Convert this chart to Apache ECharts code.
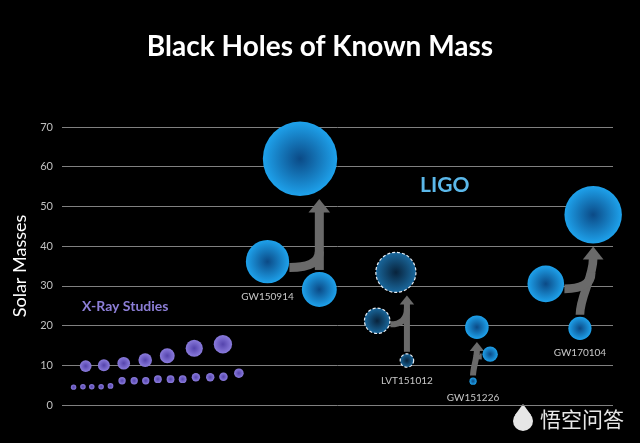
<!DOCTYPE html>
<html><head><meta charset="utf-8">
<script src="https://cdn.jsdelivr.net/npm/echarts@6/dist/echarts.min.js"></script>
<style>html,body{margin:0;padding:0;background:#000;}#c{width:640px;height:443px;}</style>
</head><body><div id="c"></div>
<script>
// ---- data ----
const yTicks = [0, 10, 20, 30, 40, 50, 60, 70];
const xrayX    = [4.3, 7.6, 11.2, 15.1, 19.1, 24.0, 29.2, 2.1, 3.8, 5.4, 7.1, 8.8, 10.9, 13.1, 15.2, 17.4, 19.7, 21.9, 24.3, 26.9, 29.3, 32.1];
const xrayMass = [9.8, 10.0, 10.5, 11.3, 12.4, 14.3, 15.3, 4.5, 4.6, 4.6, 4.6, 4.8, 6.1, 6.1, 6.1, 6.5, 6.5, 6.5, 7.0, 7.0, 7.1, 8.0];
const events        = ['GW150914', 'LVT151012', 'GW151226', 'GW170104'];
const finalX        = [43.2, 60.6, 75.3, 96.4];
const finalMass     = [62.0, 33.4, 19.6, 47.9];
const primaryX      = [37.3, 57.2, 77.7, 87.8];
const primaryMass   = [36.1, 21.2, 12.8, 30.5];
const secondaryX    = [46.7, 62.6, 74.6, 94.0];
const secondaryMass = [29.1, 11.2, 6.0, 19.3];
const isCandidate   = [false, true, false, false];
const labelOn       = ['primary', 'secondary', 'secondary', 'secondary'];

// ---- helpers ----
const FONT = 'Lato, "Open Sans", sans-serif';
function diam(m) { return m * 1.2; }
function radial(c0, c1) {
  return { type: 'radial', x: 0.5, y: 0.5, r: 0.5,
    colorStops: [{ offset: 0, color: c0 }, { offset: 1, color: c1 }] };
}
const ligoFill = radial('#0b4a86', '#1ea2ec');
const lvtFill = radial('#08233c', '#1a6aa0');
const xrayFill = radial('#5544ad', '#8a7bdc');

function eventPoints(cand) {
  const pts = [];
  events.forEach((name, i) => {
    if (isCandidate[i] !== cand) return;
    const mk = (x, m, role) => {
      const it = { value: [x, m] };
      if (labelOn[i] === role) {
        it.label = { show: true, position: 'bottom', distance: 8, formatter: name,
          color: '#c8c8c8', fontSize: 10, fontFamily: FONT };
      }
      return it;
    };
    pts.push(mk(finalX[i], finalMass[i], 'final'));
    pts.push(mk(primaryX[i], primaryMass[i], 'primary'));
    pts.push(mk(secondaryX[i], secondaryMass[i], 'secondary'));
  });
  return pts;
}

function renderArrow(params, api) {
  const p0 = api.coord([api.value(0), api.value(1)]), r0 = diam(api.value(1)) / 2;
  const p1 = api.coord([api.value(2), api.value(3)]), r1 = diam(api.value(3)) / 2;
  const p2 = api.coord([api.value(4), api.value(5)]), r2 = diam(api.value(5)) / 2;
  const lw = Math.min(9, Math.max(6, r0 * 0.3));
  const headL = lw * 1.5, headW = lw * 2.4;
  const tx = Math.max(p0[0], p2[0]);
  const T = [tx, p0[1] + r0 + 3];
  const H = [tx, T[1] + headL];
  const S = [p2[0], p2[1] - r2 - 2];
  const dy = S[1] - H[1];
  const shaft = 'M' + S[0] + ' ' + S[1] + ' C' + S[0] + ' ' + (S[1] - dy / 3) + ' ' + H[0] + ' ' + (H[1] + dy / 3) + ' ' + H[0] + ' ' + (H[1] - 1);
  const dir = Math.sign(p2[0] - p1[0]) || 1;
  const a = 15 * Math.PI / 180;
  const B0 = [p1[0] + dir * (r1 + 1) * Math.cos(a), p1[1] + (r1 + 1) * Math.sin(a)];
  let jy = Math.min(Math.max(B0[1] - 16, H[1] + 4), S[1] - 4);
  const t = (S[1] - jy) / dy;
  const jx = S[0] + (H[0] - S[0]) * (3 * t * t - 2 * t * t * t);
  const branch = 'M' + B0[0] + ' ' + B0[1] + ' Q' + jx + ' ' + B0[1] + ' ' + jx + ' ' + jy;
  const col = '#6a6a6a';
  return {
    type: 'group',
    children: [
      { type: 'path', shape: { pathData: shaft }, style: { fill: null, stroke: col, lineWidth: lw } },
      { type: 'path', shape: { pathData: branch }, style: { fill: null, stroke: col, lineWidth: lw } },
      { type: 'polygon', shape: { points: [[T[0], T[1]], [T[0] + headW / 2, H[1]], [T[0] - headW / 2, H[1]]] }, style: { fill: col } }
    ]
  };
}

const chart = echarts.init(document.getElementById('c'), null, { renderer: 'canvas' });
chart.setOption({
  backgroundColor: '#000',
  animation: false,
  title: {
    text: 'Black Holes of Known Mass', left: 'center', top: 28,
    textStyle: { color: '#fff', fontSize: 28, fontWeight: 'bold', fontFamily: FONT }
  },
  grid: { left: 62, right: 27, top: 127, bottom: 38 },
  xAxis: { type: 'value', min: 0, max: 100, show: false },
  yAxis: {
    type: 'value', min: yTicks[0], max: yTicks[yTicks.length - 1], interval: 10,
    name: 'Solar Masses', nameLocation: 'middle', nameGap: 33,
    nameTextStyle: { color: '#fff', fontSize: 18, fontFamily: FONT },
    axisLine: { show: false }, axisTick: { show: false },
    axisLabel: { color: '#c0c0c0', fontSize: 11, margin: 9, fontFamily: FONT },
    splitLine: { lineStyle: { color: '#808080', width: 1 } }
  },
  series: [
    {
      type: 'custom', name: 'merger', z: 1, silent: true,
      renderItem: renderArrow,
      encode: { x: [0, 2, 4], y: [1, 3, 5] },
      data: events.map((e, i) => [finalX[i], finalMass[i], primaryX[i], primaryMass[i], secondaryX[i], secondaryMass[i]])
    },
    {
      type: 'scatter', name: 'X-Ray Studies', z: 3, silent: true,
      symbolSize: v => diam(v[1]),
      itemStyle: { color: xrayFill, opacity: 1 },
      data: xrayX.map((x, i) => [x, xrayMass[i]])
    },
    {
      type: 'scatter', name: 'LIGO', z: 3, silent: true,
      symbolSize: v => diam(v[1]),
      itemStyle: { color: ligoFill, opacity: 1 },
      data: eventPoints(false)
    },
    {
      type: 'scatter', name: 'LIGO candidate', z: 3, silent: true,
      symbolSize: v => diam(v[1]),
      itemStyle: { color: lvtFill, opacity: 1, borderColor: '#e8eef5', borderWidth: 1.2, borderType: [3, 2] },
      data: eventPoints(true)
    }
  ],
  graphic: [
    { type: 'text', left: 420, top: 175, style: { text: 'LIGO', fill: '#5bb8ea', fontSize: 21, fontWeight: 'bold', fontFamily: FONT } },
    { type: 'text', left: 82, top: 299, style: { text: 'X-Ray Studies', fill: '#8c7ed6', fontSize: 14, fontWeight: 'bold', fontFamily: FONT } },
    { type: 'circle', shape: { cx: 523, cy: 421, r: 10 }, style: { fill: '#e6e6e6' } },
    { type: 'polygon', shape: { points: [[515, 415], [523, 404], [531, 415]] }, style: { fill: '#e6e6e6' } },
    { type: 'text', left: 540, top: 409, style: { text: '悟空问答', fill: '#e6e6e6', fontSize: 21, fontFamily: '"Noto Sans CJK SC", sans-serif' } }
  ]
});
</script></body></html>
